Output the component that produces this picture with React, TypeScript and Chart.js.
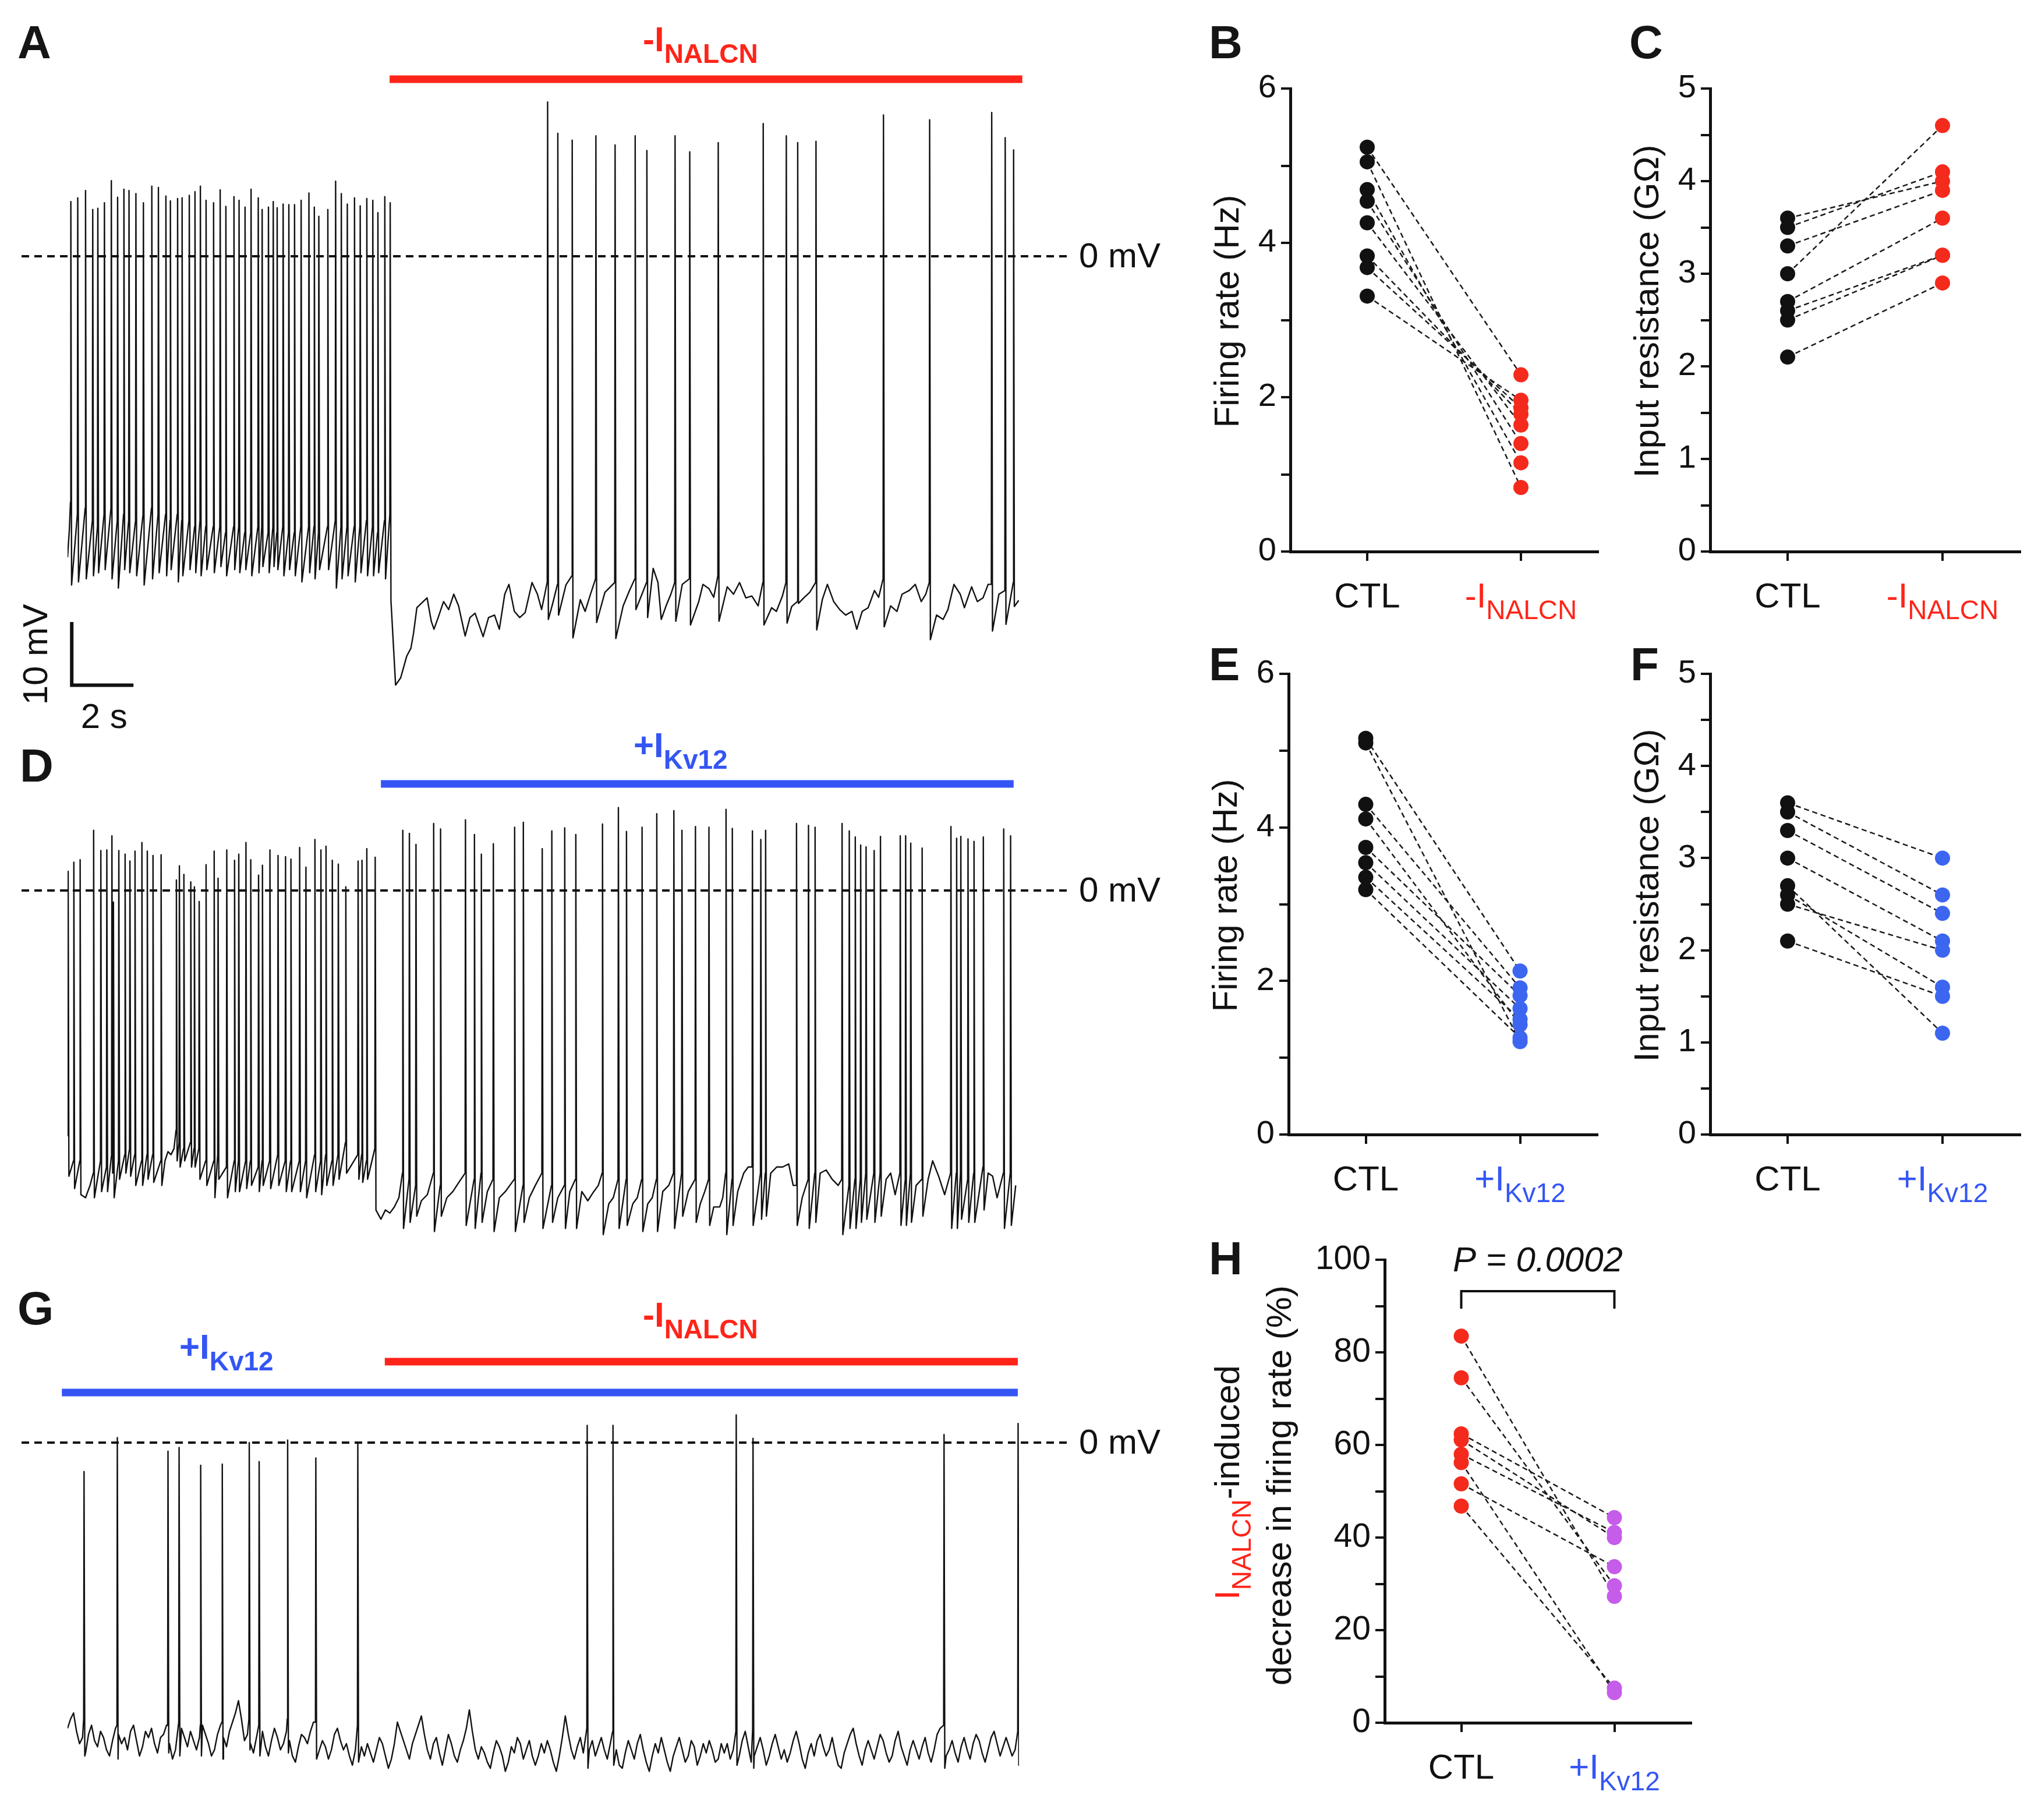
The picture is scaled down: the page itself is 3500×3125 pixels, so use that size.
import React, { useEffect, useRef } from "react";
import { Chart, registerables } from "chart.js";
Chart.register(...registerables);

const FONT = "'Liberation Sans', Arial, Helvetica, sans-serif";
const INK = "#111111";
const RED = "#ff2419";
const RED_DOT = "#f42a1d";
const BLUE = "#3455f4";
const BLUE_DOT = "#3c66f0";
const PURPLE = "#c65cea";

const T_MAX = 31.73; // s shown in each trace
const PX_PER_MV = 10.55;

// ---------------- Panel A trace: spikes [t(s), foot mV, peak mV, trough mV]
const aSpikes: number[][] = [
  [0.11, -40, 8.9, -53.5], [0.34, -42, 9.5, -53], [0.6, -41, 10.7, -52.5], [0.84, -43, 7.6, -52],
  [1.01, -44, 7.8, -51.5], [1.23, -42, 8.7, -51], [1.46, -41, 12.3, -52.5], [1.67, -43, 9.6, -54],
  [1.88, -42, 10.9, -51], [2.05, -43, 10.7, -51.5], [2.28, -43, 10.2, -52], [2.53, -42, 8.7, -53.5],
  [2.81, -41, 11.4, -52.5], [3.03, -42, 11.2, -51.5], [3.28, -42, 9.8, -52], [3.43, -43, 9.0, -51],
  [3.67, -42, 9.4, -53], [3.82, -43, 9.5, -52], [4.06, -43, 9.9, -51], [4.25, -44, 10.5, -51.5],
  [4.43, -43, 11.4, -52], [4.62, -44, 9.1, -51], [4.87, -44, 8.7, -51.5], [5.09, -44, 10.8, -50.5],
  [5.28, -45, 8.1, -52], [5.55, -44, 9.7, -51], [5.72, -44, 9.1, -51.5], [5.92, -45, 8.0, -51],
  [6.12, -45, 10.9, -52], [6.36, -44, 9.5, -51.5], [6.49, -44, 7.6, -50.5], [6.7, -45, 8.0, -51.5],
  [6.86, -44, 8.9, -50.5], [6.99, -45, 7.9, -51], [7.19, -44, 8.5, -52], [7.38, -45, 8.4, -51],
  [7.57, -45, 8.4, -52], [7.79, -44, 9.1, -53], [8.05, -44, 10.3, -51.5], [8.23, -44, 8.0, -52.5],
  [8.38, -45, 6.5, -51], [8.68, -44, 7.6, -51], [8.94, -43, 12.2, -54], [9.13, -44, 10.2, -52.5],
  [9.33, -44, 8.5, -52], [9.57, -44, 9.5, -53], [9.76, -44, 8.2, -51.5], [9.98, -43, 9.4, -52],
  [10.18, -44, 9.1, -52], [10.35, -45, 7.1, -51.5], [10.58, -43, 9.7, -52.5], [10.76, -42, 8.7, -56],
  [16.01, -53, 25.1, -59.1], [16.35, -53.4, 20.0, -58.4], [16.83, -52, 18.9, -62.1], [17.62, -52.5, 19.6, -59.6],
  [18.26, -53.1, 18.1, -62.2], [18.93, -52.5, 19.6, -57.5], [19.32, -53.1, 17.2, -58.8], [20.26, -53.1, 19.6, -59.4],
  [20.75, -52.5, 17.0, -60.0], [21.7, -52, 18.5, -59.4], [23.2, -53.1, 21.6, -60.0], [23.97, -53.1, 19.6, -59.7],
  [24.35, -56.2, 18.5, -56.5], [24.96, -53.1, 18.7, -60.8], [27.21, -52.5, 23.0, -60.3], [28.75, -53.1, 22.2, -62.4],
  [30.82, -53.4, 23.4, -61.0], [31.27, -54.4, 19.3, -59.9], [31.55, -53.1, 17.3, -57],
];
// baseline samples [t(s), mV]
const aBaseline: number[][] = [
  [0.0, -49], [0.06, -44.5],
  [10.94, -69.8], [11.11, -68.6], [11.31, -65.1], [11.45, -63.8], [11.54, -61.3], [11.65, -57.2], [11.86, -56.2],
  [11.99, -55.6], [12.13, -59.4], [12.22, -60.7], [12.36, -58.8], [12.54, -56.2], [12.71, -57.5], [12.88, -55.0],
  [13.04, -56.9], [13.26, -61.8], [13.42, -58.8], [13.59, -58.1], [13.86, -61.9], [14.04, -58.8], [14.24, -58.4],
  [14.4, -60.7], [14.58, -55.0], [14.72, -53.4], [14.9, -57.8], [15.08, -58.8], [15.26, -58.0], [15.49, -53.1],
  [15.67, -55.0], [15.81, -57.5], [16.18, -56.5], [16.62, -53.5], [17.1, -55.9], [17.26, -57.8], [17.44, -55.0],
  [17.92, -54.7], [18.53, -56.9], [18.74, -54.4], [19.53, -50.8], [19.69, -53.1], [19.8, -59.1], [19.96, -56.9],
  [20.12, -55], [20.5, -53.4], [21.05, -56.2], [21.19, -53.4], [21.39, -54.1], [21.55, -55.5], [22.0, -53.8],
  [22.21, -55.0], [22.41, -53.1], [22.62, -55.6], [22.82, -55.3], [23.03, -56.9], [23.48, -57.2], [23.64, -57.8],
  [23.84, -55.3], [24.15, -57], [24.55, -55.6], [24.75, -54.7], [25.17, -55.9], [25.34, -53.4], [25.55, -56.2],
  [25.75, -57.5], [25.95, -58.4], [26.16, -57.8], [26.32, -60.7], [26.5, -57.8], [26.7, -57.2], [26.91, -54.4],
  [27.05, -55.5], [27.45, -56.9], [27.66, -57.8], [27.83, -55.0], [28.07, -54.4], [28.27, -53.4], [28.47, -56.2],
  [28.62, -55], [28.98, -58.4], [29.2, -59.1], [29.36, -57.5], [29.56, -53.4], [29.77, -55.0], [29.91, -57.2],
  [30.15, -53.8], [30.34, -56.2], [30.53, -55.6], [30.7, -53.4], [31.06, -55], [31.72, -56],
];
const aNalcnWindow = [10.74, 31.84];

// ---------------- Panel D trace
const dSpikes: number[][] = [
  [0.02, -40, 3.1, -46.5], [0.21, -44, 4.6, -48.5], [0.42, -44, 5.0, -49.5], [0.87, -46, 9.8, -50],
  [1.11, -44, 6.5, -49], [1.31, -45, 6.6, -49], [1.48, -43, 8.9, -46], [1.53, -45, -1.9, -50],
  [1.71, -44, 6.5, -47], [1.92, -43, 5.9, -46], [2.08, -42, 4.8, -46.5], [2.25, -43, 6.4, -48],
  [2.48, -44, 7.8, -48], [2.66, -43, 6.4, -47], [2.85, -43, 5.7, -47.5], [3.12, -44, 5.8, -48],
  [3.63, -39, 1.7, -44], [3.73, -41, 4.0, -45], [3.88, -42, 2.6, -44], [4.11, -41, 1.4, -45],
  [4.23, -42, 0.6, -45], [4.39, -42, -1.8, -47], [4.62, -44, 4.2, -48], [4.89, -44, 6.4, -50],
  [5.02, -43, 2.0, -47], [5.31, -45, 6.6, -50], [5.57, -44, 4.9, -49], [5.71, -44, 5.9, -49],
  [5.95, -44, 7.8, -48.5], [6.11, -44, 5.0, -48], [6.37, -45, 2.5, -49], [6.5, -44, 4.1, -48],
  [6.75, -44, 6.6, -48.5], [7.02, -43, 5.7, -48], [7.27, -44, 5.5, -49], [7.45, -44, 5.1, -49],
  [7.74, -44, 7.0, -49], [7.95, -44, 3.8, -50], [8.25, -43, 8.3, -49], [8.45, -44, 6.6, -49.5],
  [8.62, -43, 7.2, -48], [8.83, -44, 4.9, -48], [9.03, -43, 4.3, -47], [9.28, -41, 0.6, -46],
  [9.69, -43, 4.8, -47], [9.82, -43, 4.9, -47.5], [9.98, -44, 6.8, -47], [10.26, -42, 5.4, -52],
  [11.18, -46, 9.8, -55], [11.4, -47, 9.3, -54], [11.62, -48, 7.5, -53], [12.21, -46, 10.9, -55.5],
  [12.44, -48, 10.0, -53], [13.27, -46, 11.5, -54.5], [13.57, -47, 9.1, -55], [13.8, -46, 5.9, -54],
  [14.2, -47, 7.6, -55.5], [14.91, -47, 10.3, -55.5], [15.2, -48, 11.1, -54], [15.83, -46, 6.8, -55],
  [16.15, -48, 9.7, -54], [16.58, -48, 10.2, -55], [16.95, -47, 9.1, -55], [17.84, -46, 10.8, -56],
  [18.37, -47, 13.5, -55], [18.64, -47, 9.6, -54.5], [19.16, -47, 10.3, -55.5], [19.65, -47, 12.5, -55.5],
  [20.22, -46, 13.0, -55], [20.49, -46, 9.8, -53], [20.94, -47, 10.4, -54], [21.39, -47, 10.3, -54.5],
  [21.96, -46, 13.2, -56], [22.17, -47, 10.1, -54.5], [22.84, -45, 9.7, -54.5], [23.12, -46, 8.3, -53.5],
  [23.28, -46, 9.8, -53], [24.31, -48, 10.9, -54.5], [24.71, -47, 10.6, -55], [24.93, -46, 10.3, -54],
  [25.83, -47, 10.9, -56], [26.07, -48, 9.7, -55], [26.27, -47, 8.7, -55], [26.45, -47, 7.4, -54],
  [26.63, -46, 7.1, -53.5], [26.9, -46, 6.5, -54], [27.11, -46, 8.8, -53], [27.77, -46, 8.9, -54.5],
  [27.95, -47, 8.9, -54.5], [28.12, -46, 7.7, -54], [28.5, -47, 6.9, -53], [29.46, -46, 10.4, -55],
  [29.65, -46, 8.5, -55], [29.79, -46, 8.8, -53.5], [30.03, -47, 8.4, -54], [30.23, -46, 8.0, -54],
  [30.54, -45, 8.7, -52], [31.22, -46, 10.0, -55], [31.45, -46, 8.9, -54.5],
];
const dBaseline: number[][] = [
  [0.6, -50], [0.75, -48], [3.25, -44], [3.35, -42.5], [3.45, -43], [3.55, -42],
  [10.45, -53.5], [10.6, -52], [10.75, -52.5], [10.9, -51.5], [11.05, -50], [11.8, -50.5], [12.0, -49.5],
  [12.65, -50], [12.85, -49], [13.05, -47.5], [14.0, -49], [14.4, -50], [14.6, -49], [14.75, -48],
  [15.4, -50], [15.6, -48], [16.35, -50], [16.75, -49], [17.15, -49], [17.35, -50.5], [17.55, -49], [17.7, -48],
  [18.05, -51], [18.2, -50], [18.85, -51], [19.0, -50], [19.35, -51], [19.5, -50], [19.85, -49], [20.05, -48],
  [20.7, -49], [21.1, -51], [21.25, -49], [21.55, -51.5], [21.75, -51.5], [21.85, -50], [22.35, -49],
  [22.55, -46], [22.7, -45], [23.45, -46], [23.65, -45], [23.85, -45], [24.05, -44.5], [24.2, -48],
  [24.5, -50], [25.1, -46], [25.3, -45.5], [25.5, -47], [25.7, -48], [27.3, -47], [27.45, -46], [27.6, -49.5],
  [28.3, -48], [28.7, -47], [28.85, -44], [29.05, -46.5], [29.25, -49.5], [30.7, -46], [30.85, -46.5],
  [31.0, -50], [31.62, -48],
];
const dKv12Window = [10.45, 31.55];

// ---------------- Panel G trace
const gSpikes: number[][] = [
  [0.55, -45, -4.7, -51], [1.66, -46, 0.8, -51.5], [3.35, -46, -1.4, -50.5], [3.72, -45.5, -0.8, -51],
  [4.44, -46, -3.7, -51], [5.16, -45.5, -3.5, -51.5], [6.06, -45, 0.0, -50], [6.39, -46, -3.1, -51],
  [7.34, -45, 0.4, -50.5], [8.28, -45.5, -2.5, -51.5], [9.68, -46, -0.1, -52], [17.33, -46.5, 2.8, -53],
  [18.19, -47, 2.8, -52.5], [22.3, -47, 4.5, -52.5], [22.86, -46.5, 0.7, -53], [29.23, -46, 1.3, -53],
  [31.7, -47, 3.1, -52.5],
];
const gBaselineStep = 0.1; // s between baseline samples
const gBaseline: number[] = [
  -46.5, -45, -44, -47, -49, -48, -50.5, -47.5, -46, -48.5, -49.5, -47, -48, -50, -51, -48.5, -46.5, -47.5, -49, -48,
  -50, -47, -46, -48.5, -51, -49.5, -47, -48, -46.5, -49, -50.5, -48, -47.5, -46, -49, -51.5, -50, -47.5, -46.5, -48,
  -49.5, -47, -48.5, -50, -48, -46, -47.5, -49, -51, -50, -47.5, -46, -48, -49.5, -47, -45.5, -44, -42, -45, -48.5,
  -47.5, -49, -50.5, -48, -46.5, -47, -49.5, -51, -48.5, -46.5, -48, -50, -49, -47, -48.5, -51, -52, -49.5, -47.5, -48,
  -49, -47, -45.5, -47.5, -50, -48.5, -49.5, -51.5, -50, -47.5, -46.5, -48.5, -50, -49, -51, -52.5, -50, -48, -49.5, -51,
  -49, -50.5, -52, -50, -48, -49, -51, -53, -51.5, -49, -45.5, -47, -48.5, -50, -51.5, -49, -47.5, -46, -44.5, -47.5,
  -50, -51.5, -49, -48, -50.5, -52.5, -50, -47.5, -49, -51, -52, -50, -48.5, -46.5, -43.5, -47, -50, -51.5, -49.5, -50.5,
  -52, -53, -50.5, -48.5, -49.5, -51, -53.5, -52, -49.5, -50.5, -48, -49, -51.5, -50, -48.5, -51, -52.5, -51, -49, -50.5,
  -48.5, -50, -52, -53.5, -51, -48, -44.5, -47.5, -50, -51.5, -49.5, -48, -50.5, -52, -50, -48.5, -51, -49.5, -48, -50,
  -51.5, -49, -47.5, -50, -52.5, -53, -50.5, -48.5, -50, -51.5, -49, -47.5, -50, -52, -53.5, -51, -49, -50.5, -48, -50,
  -52, -53.5, -51, -49.5, -48, -50, -52, -51, -48.5, -49.5, -52.5, -51, -49, -50.5, -48.5, -50, -52, -51.5, -49, -50.5,
  -49, -51.5, -50, -52.5, -51, -48.5, -47, -49.5, -52, -51, -49.5, -48, -50, -52.5, -51, -49, -47.5, -49.5, -51.5, -50,
  -52, -50.5, -48.5, -47, -49, -51.5, -53, -50.5, -49, -51, -48.5, -47.5, -49.5, -51, -50, -48, -50.5, -52.5, -53, -50.5,
  -49, -47.5, -46.5, -49, -51, -52.5, -50, -48.5, -50, -51.5, -49.5, -47.5, -48.5, -50.5, -52, -51, -48.5, -47, -49.5, -51,
  -52.5, -50, -48.5, -50, -51.5, -49.5, -48, -50.5, -52, -50, -47.5, -46.5, -49, -51, -50, -48.5, -50.5, -52, -49.5, -48,
  -50, -51.5, -49, -47.5, -48.5, -50.5, -52, -50, -48, -47, -49, -51, -49.5, -48, -49.5, -51, -50, -52, -52.5, -53,
];
const gKv12Window = [-0.19, 31.69];
const gNalcnWindow = [10.58, 31.69];

const scaleBarMv = 10;
const scaleBarS = 2;
const scaleBarOrigin = [0.14, -69.8]; // s, mV

// ---------------- Paired plots
const bCtl = [5.24, 5.05, 4.69, 4.54, 4.26, 3.83, 3.68, 3.31];
const bNalcn = [2.29, 0.83, 1.15, 1.4, 1.64, 1.78, 1.86, 1.96];
const cCtl = [3.6, 3.5, 3.3, 3.0, 2.7, 2.6, 2.5, 2.1];
const cNalcn = [4.0, 4.1, 3.9, 4.6, 3.6, 3.2, 3.2, 2.9];
const eCtl = [5.16, 5.1, 4.3, 4.11, 3.74, 3.54, 3.35, 3.19];
const eKv12 = [2.13, 1.21, 1.91, 1.43, 1.81, 1.64, 1.5, 1.26];
const fCtl = [3.6, 3.5, 3.3, 3.0, 2.7, 2.6, 2.5, 2.1];
const fKv12 = [3.0, 2.6, 2.4, 2.1, 1.1, 1.6, 2.0, 1.5];
const hCtl = [83.5, 74.5, 62.4, 61.1, 58.0, 56.2, 51.6, 46.8];
const hKv12 = [27.3, 29.6, 44.3, 40.0, 41.1, 6.5, 33.7, 7.5];
const hPText = "P = 0.0002";

// ---------------- helpers
type Part = { t: string; size: number; color: string; bold?: boolean; italic?: boolean; dy?: number };
const fontOf = (p: Part) => `${p.italic ? "italic " : ""}${p.bold ? "bold " : ""}${p.size}px ${FONT}`;
function drawRich(ctx: CanvasRenderingContext2D, parts: Part[], x: number, y: number, align: "left" | "center") {
  ctx.save();
  ctx.textBaseline = "alphabetic";
  ctx.textAlign = "left";
  let w = 0;
  for (const p of parts) { ctx.font = fontOf(p); w += ctx.measureText(p.t).width; }
  let cx = align === "center" ? x - w / 2 : x;
  for (const p of parts) {
    ctx.font = fontOf(p);
    ctx.fillStyle = p.color;
    ctx.fillText(p.t, cx, y + (p.dy || 0));
    cx += ctx.measureText(p.t).width;
  }
  ctx.restore();
}
const nalcnBold: Part[] = [{ t: "-I", size: 60, bold: true, color: RED }, { t: "NALCN", size: 46, bold: true, color: RED, dy: 20 }];
const kvBold: Part[] = [{ t: "+I", size: 60, bold: true, color: BLUE }, { t: "Kv12", size: 46, bold: true, color: BLUE, dy: 20 }];
const ctlLab: Part[] = [{ t: "CTL", size: 60, color: INK }];
const nalcnLab: Part[] = [{ t: "-I", size: 60, color: RED }, { t: "NALCN", size: 46, color: RED, dy: 20 }];
const kvLab: Part[] = [{ t: "+I", size: 60, color: BLUE }, { t: "Kv12", size: 46, color: BLUE, dy: 20 }];

function drawLetter(ctx: CanvasRenderingContext2D, t: string, x: number, y: number) {
  ctx.save();
  ctx.font = `bold 80px ${FONT}`;
  ctx.fillStyle = "#151515";
  ctx.textAlign = "left";
  ctx.textBaseline = "alphabetic";
  ctx.fillText(t, x, y);
  ctx.restore();
}

type Box = { x: number; y: number; w: number; h: number };
type Area = { left: number; right: number; top: number; bottom: number };

function tracePoints(spikes: number[][], base: number[][]) {
  const pts: { x: number; y: number }[] = [];
  for (const [t, foot, pk, tr] of spikes) {
    pts.push({ x: t - 0.012, y: foot }, { x: t, y: pk }, { x: t + 0.025, y: tr });
  }
  for (const [t, v] of base) {
    if (spikes.some((s) => t > s[0] - 0.03 && t < s[0] + 0.04)) continue;
    pts.push({ x: t, y: v });
  }
  pts.sort((a, b) => a.x - b.x);
  return pts;
}

type TracePanel = {
  box: Box; area: Area; zeroY: number; letter: [string, number, number];
  bars: { win: number[]; y: number; color: string }[];
  labels: { x: number; y: number; parts: Part[] }[];
  scaleBar?: boolean;
  spikes: number[][]; base: number[][];
};

function traceConfig(p: TracePanel): any {
  const { box, area } = p;
  const yMax = (p.zeroY - area.top) / PX_PER_MV;
  const yMin = -(area.bottom - p.zeroY) / PX_PER_MV;
  const overlay = {
    id: "traceOverlay",
    beforeDatasetsDraw(chart: any) {
      const ctx = chart.ctx as CanvasRenderingContext2D;
      const y0 = chart.scales.y.getPixelForValue(0);
      ctx.save();
      ctx.strokeStyle = INK;
      ctx.lineWidth = 4;
      ctx.setLineDash([13, 9]);
      ctx.beginPath();
      ctx.moveTo(37 - box.x, y0);
      ctx.lineTo(1835 - box.x, y0);
      ctx.stroke();
      ctx.restore();
    },
    afterDraw(chart: any) {
      const ctx = chart.ctx as CanvasRenderingContext2D;
      const xs = chart.scales.x, ys = chart.scales.y;
      const y0 = ys.getPixelForValue(0);
      ctx.save();
      ctx.font = `60px ${FONT}`;
      ctx.fillStyle = INK;
      ctx.textBaseline = "middle";
      ctx.fillText("0 mV", 1853 - box.x, y0 + 2);
      ctx.restore();
      for (const b of p.bars) {
        const x0 = xs.getPixelForValue(b.win[0]);
        const x1 = xs.getPixelForValue(b.win[1]);
        ctx.fillStyle = b.color;
        ctx.fillRect(x0, b.y - box.y - 6.5, x1 - x0, 13);
      }
      for (const l of p.labels) drawRich(ctx, l.parts, l.x - box.x, l.y - box.y, "left");
      drawLetter(ctx, p.letter[0], p.letter[1] - box.x, p.letter[2] - box.y);
      if (p.scaleBar) {
        const sx = xs.getPixelForValue(scaleBarOrigin[0]);
        const sy = ys.getPixelForValue(scaleBarOrigin[1]);
        const ty = ys.getPixelForValue(scaleBarOrigin[1] + scaleBarMv);
        const rx = xs.getPixelForValue(scaleBarOrigin[0] + scaleBarS);
        ctx.save();
        ctx.strokeStyle = INK;
        ctx.lineWidth = 6;
        ctx.lineCap = "square";
        ctx.beginPath();
        ctx.moveTo(sx, ty);
        ctx.lineTo(sx, sy);
        ctx.lineTo(rx, sy);
        ctx.stroke();
        ctx.fillStyle = INK;
        ctx.font = `60px ${FONT}`;
        ctx.textAlign = "center";
        ctx.textBaseline = "alphabetic";
        ctx.fillText(`${scaleBarS} s`, (sx + rx) / 2 + 4, sy + 74);
        ctx.translate(sx - 42, (sy + ty) / 2);
        ctx.rotate(-Math.PI / 2);
        ctx.fillText(`${scaleBarMv} mV`, 0, 0);
        ctx.restore();
      }
    },
  };
  return {
    type: "scatter",
    data: {
      datasets: [{
        data: tracePoints(p.spikes, p.base),
        showLine: true, borderColor: INK, borderWidth: 2.4, pointRadius: 0, tension: 0,
        borderJoinStyle: "round", fill: false,
      }],
    },
    options: {
      responsive: false, animation: false, devicePixelRatio: 1, events: [],
      layout: { padding: { left: area.left - box.x, right: box.x + box.w - area.right, top: area.top - box.y, bottom: box.y + box.h - area.bottom } },
      scales: {
        x: { type: "linear", display: false, min: 0, max: T_MAX },
        y: { type: "linear", display: false, min: yMin, max: yMax },
      },
      plugins: { legend: { display: false }, tooltip: { enabled: false } },
    },
    plugins: [overlay],
  };
}

type PairPanel = {
  box: Box; area: Area; letter: [string, number, number];
  ctl: number[]; trt: number[]; ctlColor: string; trtColor: string;
  yMax: number; step: number; labelEvery: number; tickSize: number;
  title?: string; richTitle?: boolean; cats: Part[][]; bracket?: boolean;
};

function pairConfig(p: PairPanel): any {
  const { box, area } = p;
  const lineSets = p.ctl.map((c, i) => ({
    data: [{ x: 0, y: c }, { x: 1, y: p.trt[i] }],
    showLine: true, borderColor: "#1a1a1a", borderWidth: 2.5, borderDash: [9, 6],
    pointRadius: 0, order: 2, fill: false,
  }));
  const dotSets = [
    { data: p.ctl.map((v) => ({ x: 0, y: v })), pointRadius: 13, pointBackgroundColor: p.ctlColor, backgroundColor: p.ctlColor, pointBorderWidth: 0, borderWidth: 0, order: 1 },
    { data: p.trt.map((v) => ({ x: 1, y: v })), pointRadius: 13, pointBackgroundColor: p.trtColor, backgroundColor: p.trtColor, pointBorderWidth: 0, borderWidth: 0, order: 0 },
  ];
  const overlay = {
    id: "pairOverlay",
    afterDraw(chart: any) {
      const ctx = chart.ctx as CanvasRenderingContext2D;
      const ca = chart.chartArea;
      const xs = chart.scales.x;
      p.cats.forEach((parts, i) => drawRich(ctx, parts, xs.getPixelForValue(i), ca.bottom + 96, "center"));
      drawLetter(ctx, p.letter[0], p.letter[1] - box.x, p.letter[2] - box.y);
      const cy = (ca.top + ca.bottom) / 2;
      if (p.title) {
        ctx.save();
        ctx.translate(ca.left - 106, cy - 15);
        ctx.rotate(-Math.PI / 2);
        ctx.font = `60px ${FONT}`;
        ctx.fillStyle = INK;
        ctx.textAlign = "center";
        ctx.textBaseline = "middle";
        ctx.fillText(p.title, 0, 0);
        ctx.restore();
      }
      if (p.richTitle) {
        ctx.save();
        ctx.translate(ca.left - 250, cy - 15);
        ctx.rotate(-Math.PI / 2);
        drawRich(ctx, [
          { t: "I", size: 60, color: RED },
          { t: "NALCN", size: 46, color: RED, dy: 20 },
          { t: "-induced", size: 60, color: INK },
        ], 0, 0, "center");
        ctx.restore();
        ctx.save();
        ctx.translate(ca.left - 161, cy - 10);
        ctx.rotate(-Math.PI / 2);
        drawRich(ctx, [{ t: "decrease in firing rate (%)", size: 60, color: INK }], 0, 0, "center");
        ctx.restore();
      }
      if (p.bracket) {
        const x0 = xs.getPixelForValue(0), x1 = xs.getPixelForValue(1);
        const by = ca.top + 54;
        ctx.save();
        ctx.strokeStyle = INK;
        ctx.lineWidth = 4;
        ctx.beginPath();
        ctx.moveTo(x0, by + 30);
        ctx.lineTo(x0, by);
        ctx.lineTo(x1, by);
        ctx.lineTo(x1, by + 30);
        ctx.stroke();
        ctx.restore();
        drawRich(ctx, [{ t: hPText, size: 60, italic: true, color: INK }], (x0 + x1) / 2, ca.top + 20, "center");
      }
    },
  };
  const axisGrid = { display: true, drawOnChartArea: false, drawTicks: true, tickLength: 16, lineWidth: 4, color: INK, tickColor: INK };
  const axisBorder = { display: true, width: 5, color: INK };
  return {
    type: "scatter",
    data: { datasets: [...lineSets, ...dotSets] },
    options: {
      responsive: false, animation: false, devicePixelRatio: 1, events: [],
      layout: { padding: { left: 0, bottom: 0, top: area.top - box.y, right: box.x + box.w - area.right } },
      scales: {
        x: {
          type: "linear", min: -0.5, max: 1.5,
          afterBuildTicks: (s: any) => { s.ticks = [{ value: 0 }, { value: 1 }]; },
          afterFit: (s: any) => { s.height = box.y + box.h - area.bottom; },
          ticks: { display: false },
          grid: axisGrid, border: axisBorder,
        },
        y: {
          type: "linear", min: 0, max: p.yMax,
          afterFit: (s: any) => { s.width = area.left - box.x; },
          ticks: {
            stepSize: p.step, autoSkip: false, padding: 8, color: INK,
            font: { family: FONT, size: p.tickSize },
            callback: (v: number) => (Math.abs(v / p.labelEvery - Math.round(v / p.labelEvery)) < 1e-6 ? String(v) : ""),
          },
          grid: axisGrid, border: axisBorder,
        },
      },
      plugins: { legend: { display: false }, tooltip: { enabled: false } },
    },
    plugins: [overlay],
  };
}

const PANEL_A: TracePanel = {
  box: { x: 0, y: 0, w: 2040, h: 1262 }, area: { left: 116, right: 1750, top: 150, bottom: 1200 }, zeroY: 440,
  letter: ["A", 30, 100], bars: [{ win: aNalcnWindow, y: 136, color: RED }],
  labels: [{ x: 1104, y: 88, parts: nalcnBold }], scaleBar: true, spikes: aSpikes, base: aBaseline,
};
const PANEL_D: TracePanel = {
  box: { x: 0, y: 1240, w: 2040, h: 930 }, area: { left: 116, right: 1750, top: 1370, bottom: 2150 }, zeroY: 1529,
  letter: ["D", 34, 1342], bars: [{ win: dKv12Window, y: 1346, color: BLUE }],
  labels: [{ x: 1088, y: 1300, parts: kvBold }], spikes: dSpikes, base: dBaseline,
};
const PANEL_G: TracePanel = {
  box: { x: 0, y: 2170, w: 2040, h: 955 }, area: { left: 116, right: 1750, top: 2420, bottom: 3100 }, zeroY: 2477,
  letter: ["G", 30, 2274],
  bars: [{ win: gNalcnWindow, y: 2338, color: RED }, { win: gKv12Window, y: 2391, color: BLUE }],
  labels: [{ x: 1104, y: 2278, parts: nalcnBold }, { x: 308, y: 2333, parts: kvBold }],
  spikes: gSpikes, base: gBaseline.map((v, i) => [i * gBaselineStep, v]),
};

const PANEL_B: PairPanel = {
  box: { x: 2030, y: 0, w: 760, h: 1100 }, area: { left: 2216, right: 2744, top: 152, bottom: 947 },
  letter: ["B", 2076, 100], ctl: bCtl, trt: bNalcn, ctlColor: INK, trtColor: RED_DOT,
  yMax: 6, step: 1, labelEvery: 2, tickSize: 56, title: "Firing rate (Hz)", cats: [ctlLab, nalcnLab],
};
const PANEL_C: PairPanel = {
  box: { x: 2760, y: 0, w: 740, h: 1100 }, area: { left: 2937, right: 3469, top: 152, bottom: 947 },
  letter: ["C", 2798, 100], ctl: cCtl, trt: cNalcn, ctlColor: INK, trtColor: RED_DOT,
  yMax: 5, step: 0.5, labelEvery: 1, tickSize: 56, title: "Input resistance (GΩ)", cats: [ctlLab, nalcnLab],
};
const PANEL_E: PairPanel = {
  box: { x: 2030, y: 1100, w: 760, h: 1000 }, area: { left: 2213, right: 2743, top: 1157, bottom: 1948 },
  letter: ["E", 2076, 1168], ctl: eCtl, trt: eKv12, ctlColor: INK, trtColor: BLUE_DOT,
  yMax: 6, step: 1, labelEvery: 2, tickSize: 56, title: "Firing rate (Hz)", cats: [ctlLab, kvLab],
};
const PANEL_F: PairPanel = {
  box: { x: 2760, y: 1100, w: 740, h: 1000 }, area: { left: 2937, right: 3469, top: 1157, bottom: 1948 },
  letter: ["F", 2800, 1168], ctl: fCtl, trt: fKv12, ctlColor: INK, trtColor: BLUE_DOT,
  yMax: 5, step: 0.5, labelEvery: 1, tickSize: 56, title: "Input resistance (GΩ)", cats: [ctlLab, kvLab],
};
const PANEL_H: PairPanel = {
  box: { x: 2030, y: 2080, w: 1000, h: 1045 }, area: { left: 2378, right: 2904, top: 2163, bottom: 2958 },
  letter: ["H", 2076, 2188], ctl: hCtl, trt: hKv12, ctlColor: RED_DOT, trtColor: PURPLE,
  yMax: 100, step: 10, labelEvery: 20, tickSize: 57, richTitle: true, cats: [ctlLab, kvLab], bracket: true,
};

function ChartCanvas({ box, config }: { box: Box; config: () => any }) {
  const ref = useRef<HTMLCanvasElement | null>(null);
  useEffect(() => {
    const chart = new Chart(ref.current as HTMLCanvasElement, config());
    return () => chart.destroy();
  }, []);
  return (
    <canvas
      ref={ref}
      width={box.w}
      height={box.h}
      style={{ position: "absolute", left: box.x, top: box.y, width: box.w, height: box.h }}
    />
  );
}

export default function App() {
  return (
    <div style={{ position: "absolute", left: 0, top: 0, width: 3500, height: 3125, background: "#ffffff", overflow: "hidden" }}>
      <ChartCanvas box={PANEL_A.box} config={() => traceConfig(PANEL_A)} />
      <ChartCanvas box={PANEL_D.box} config={() => traceConfig(PANEL_D)} />
      <ChartCanvas box={PANEL_G.box} config={() => traceConfig(PANEL_G)} />
      <ChartCanvas box={PANEL_B.box} config={() => pairConfig(PANEL_B)} />
      <ChartCanvas box={PANEL_C.box} config={() => pairConfig(PANEL_C)} />
      <ChartCanvas box={PANEL_E.box} config={() => pairConfig(PANEL_E)} />
      <ChartCanvas box={PANEL_F.box} config={() => pairConfig(PANEL_F)} />
      <ChartCanvas box={PANEL_H.box} config={() => pairConfig(PANEL_H)} />
    </div>
  );
}
